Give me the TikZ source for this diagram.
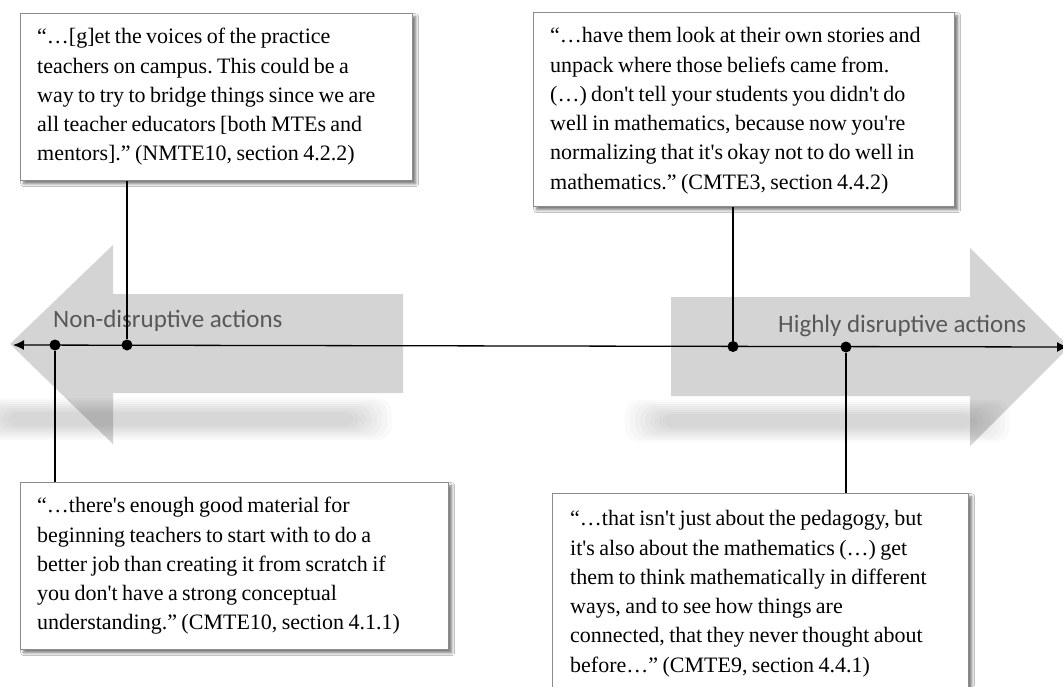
\documentclass[tikz,border=0pt]{standalone}
\usepackage{fontspec}
\setmainfont{Liberation Serif}[Ligatures=TeXOff]
\newfontfamily\lblfont{Carlito}
\usetikzlibrary{shadows.blur,arrows.meta}
\definecolor{arrowgray}{RGB}{212,212,212}
\definecolor{boxline}{RGB}{140,140,140}
\definecolor{lblgray}{RGB}{88,88,88}
\newcommand{\qsp}{\frenchspacing\spaceskip=4.4pt plus 1pt minus 1pt\relax}
\begin{document}
\begin{tikzpicture}[x=1pt,y=-1pt,
  qbox/.style={draw=boxline, line width=1.4pt, fill=white, anchor=north west, inner sep=0pt,
    blur shadow={shadow xshift=3pt, shadow yshift=-3pt, shadow blur radius=3pt, shadow opacity=55}},
  qtext/.style={anchor=north west, inner sep=0pt, text width=430pt, align=left,
    font=\fontsize{22}{29.3}\selectfont},
  dot/.style={circle, fill=black, inner sep=0pt, minimum size=11pt},
  link/.style={line width=1.1pt},
  axis/.style={line width=1.3pt, {Latex[length=11pt,width=10pt]}-{Latex[length=11pt,width=10pt]}},
  big/.style={fill=arrowgray, draw=none},
  lbl/.style={font=\lblfont\fontsize{25}{30}\selectfont, text=lblgray, inner sep=0pt, anchor=base west},
  shadelayer/.style={fill=black, opacity=0.02, rounded corners=14pt}]
\useasboundingbox (0,0) rectangle (1063,686);
\fill[white] (0,0) rectangle (1063,686);

% big gray arrows
\path[big] (10,344) -- (113,245) -- (113,294) -- (403,294) -- (403,393) -- (113,393) -- (113,444) -- cycle;
\path[big] (671,297) -- (970,297) -- (970,248) -- (1069,347) -- (970,446) -- (970,396) -- (671,396) -- cycle;

% soft shadows below the big arrows (layered)
\foreach \i in {0,...,7}{
  \fill[shadelayer] (-30+5*\i, 398+2*\i) rectangle (392-5*\i, 440-2*\i);
  \fill[shadelayer] (625+5*\i, 400+2*\i) rectangle (1010-5*\i, 442-2*\i);
}

\node[lbl] (nl) at (53,327) {Non-disruptive actions};
\node[lbl] (hl) at (778,332) {Highly disruptive actions};

% axis
\coordinate (L) at (13,345);
\coordinate (R) at (1068,347);
\draw[axis] (L) -- (R);

\node[dot] (d1) at (55,345) {};
\node[dot] (d2) at (127,345) {};
\node[dot] (d3) at (733,346.5) {};
\node[dot] (d4) at (846,347) {};

% boxes
\node[qbox, minimum width=392pt, minimum height=167pt] (b1) at (20,13) {};
\node[qbox, minimum width=421pt, minimum height=194pt] (b2) at (533,12) {};
\node[qbox, minimum width=428pt, minimum height=167pt] (b3) at (20,482) {};
\node[qbox, minimum width=416pt, minimum height=230pt] (b4) at (552,493) {};

% connectors
\draw[link] (d2) -- (d2 |- b1.south);
\draw[link] (d3) -- (d3 |- b2.south);
\draw[link] (d1) -- (d1 |- b3.north);
\draw[link] (d4) -- (d4 |- b4.north);

% texts
\node[qtext] (t1) at ([xshift=17pt,yshift=-10pt]b1.north west) {\qsp\strut “…[g]et the voices of the practice\\
teachers on campus. This could be a\\
way to try to bridge things since we are\\
all teacher educators [both MTEs and\\
mentors].” (NMTE10, section 4.2.2)};

\node[qtext] (t2) at ([xshift=17pt,yshift=-10pt]b2.north west) {\qsp\strut “…have them look at their own stories and\\
unpack where those beliefs came from.\\
(…) don't tell your students you didn't do\\
well in mathematics, because now you're\\
normalizing that it's okay not to do well in\\
mathematics.” (CMTE3, section 4.4.2)};

\node[qtext] (t3) at ([xshift=17pt,yshift=-10pt]b3.north west) {\qsp\strut “…there's enough good material for\\
beginning teachers to start with to do a\\
better job than creating it from scratch if\\
you don't have a strong conceptual\\
understanding.” (CMTE10, section 4.1.1)};

\node[qtext] (t4) at ([xshift=18pt,yshift=-12pt]b4.north west) {\qsp\strut “…that isn't just about the pedagogy, but\\
it's also about the mathematics (…) get\\
them to think mathematically in different\\
ways, and to see how things are\\
connected, that they never thought about\\
before…” (CMTE9, section 4.4.1)};
\end{tikzpicture}
\end{document}
